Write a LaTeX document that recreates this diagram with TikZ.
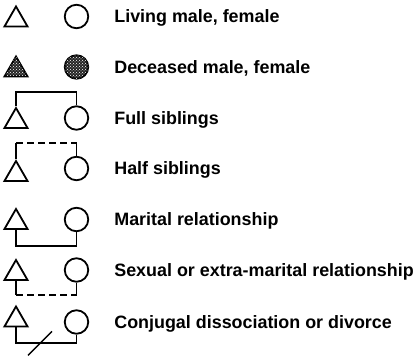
\documentclass[tikz,border=0pt]{standalone}
\usepackage{fontspec}
\setmainfont{Liberation Sans}
\usetikzlibrary{shapes.geometric, positioning, patterns}

\begin{document}
\begin{tikzpicture}[x=1pt, y=1pt,
  male/.style={regular polygon, regular polygon sides=3, draw, line width=1.8pt, minimum size=26.6pt, inner sep=0pt},
  female/.style={circle, draw, line width=1.8pt, minimum size=23.5pt, inner sep=0pt},
  dead/.style={fill=black!85, postaction={pattern=crosshatch dots, pattern color=white}},
  tie/.style={line width=1.8pt},
  broken/.style={tie, dash pattern=on 7pt off 4pt},
  desc/.style={font=\fontsize{17.9}{20}\selectfont\bfseries, inner sep=0pt, text height=12.8pt, text depth=0pt},
]
\useasboundingbox (0,0) rectangle (420,-356);

% ── ROW 1: living ──
\node[male] (m1) at (16,-19.8) {};
\node[female] (f1) at (76.5,-16.5) {};
\node[desc, right=25pt of f1] (l1) {Living male, female};

% ── ROW 2: deceased ──
\node[male, dead] (m2) at (16,-69.8) {};
\node[female, dead] (f2) at (76.5,-67) {};
\node[desc, right=25pt of f2] (l2) {Deceased male, female};

% ── ROW 3: full siblings ──
\node[male] (m3) at (16,-121.3) {};
\node[female] (f3) at (76.5,-118) {};
\node[desc, right=25pt of f3] (l3) {Full siblings};

% ── ROW 4: half siblings ──
\node[male] (m4) at (16,-174.3) {};
\node[female] (f4) at (76.5,-168.5) {};
\node[desc, right=25pt of f4] (l4) {Half siblings};

% ── ROW 5: marital ──
\node[male] (m5) at (16,-222.3) {};
\node[female] (f5) at (76.5,-219.5) {};
\node[desc, right=25pt of f5] (l5) {Marital relationship};

% ── ROW 6: sexual ──
\node[male] (m6) at (16,-273.3) {};
\node[female] (f6) at (76.5,-270) {};
\node[desc, right=25pt of f6] (l6) {Sexual or extra-marital relationship};

% ── ROW 7: divorce ──
\node[male] (m7) at (16,-319.8) {};
\node[female] (f7) at (76.5,-322) {};
\node[desc, right=25pt of f7] (l7) {Conjugal dissociation or divorce};

% ── TIES ──
% siblings hang from a line above
\draw[tie] (m3.north) -- ++(0,14) -| (f3.north);

\draw[tie] (m4.north) -- ++(0,16) coordinate (h4a);
\draw[tie] (f4.north) -- (f4.north |- h4a) coordinate (h4b);
\draw[broken] (h4a) -- (h4b);

% partners joined by a line below
\draw[tie] (m5.south) -- ++(0,-16) -| (f5.south);

\draw[tie] (m6.south) -- ++(0,-14) coordinate (h6a);
\draw[tie] (f6.south) -- (f6.south |- h6a) coordinate (h6b);
\draw[broken] (h6a) -- (h6b);

\draw[tie] (m7.south) -- ++(0,-16) coordinate (d7) -| (f7.south);
\coordinate[right=24pt of d7] (cut);
\draw[line width=1.3pt] (cut) +(-12,-12) -- +(12,12);

\end{tikzpicture}
\end{document}
